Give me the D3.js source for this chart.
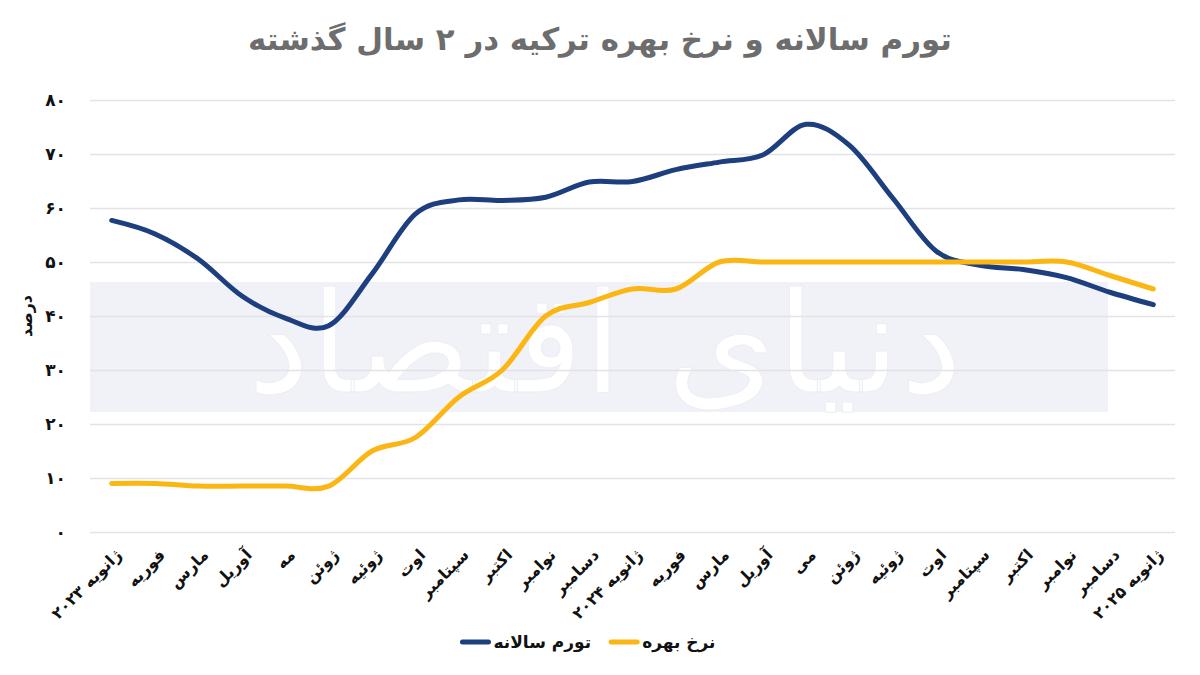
<!DOCTYPE html>
<html><head><meta charset="utf-8">
<script src="https://cdn.jsdelivr.net/npm/d3@7"></script>
<style>
html,body{margin:0;padding:0;background:#fff;}
svg{display:block;font-family:"DejaVu Sans",sans-serif;}
</style></head>
<body>
<svg id="c" width="1200" height="675"></svg>
<script>
const months = ["ژانویه ۲۰۲۳","فوریه","مارس","آوریل","مه","ژوئن","ژوئیه","اوت","سپتامبر","اکتبر","نوامبر","دسامبر","ژانویه ۲۰۲۴","فوریه","مارس","آوریل","می","ژوئن","ژوئیه","اوت","سپتامبر","اکتبر","نوامبر","دسامبر","ژانویه ۲۰۲۵"];
const inflation = [57.7,55.2,50.5,43.7,39.6,38.2,47.8,58.9,61.5,61.4,62.0,64.8,64.9,67.1,68.5,69.8,75.5,71.6,61.8,52.0,49.4,48.6,47.1,44.4,42.1];
const interestRate = [9,9,8.5,8.5,8.5,8.5,15,17.5,25,30,40,42.5,45,45,50,50,50,50,50,50,50,50,50,47.5,45];
const yTicks = [0,10,20,30,40,50,60,70,80];
const seriesNames = ["تورم سالانه","نرخ بهره"];
const seriesColors = ["#1e3f7f","#fbb614"];
const titleText = "تورم سالانه و نرخ بهره ترکیه در ۲ سال گذشته";
const yTitle = "درصد";

const fa = n => String(n).replace(/\d/g, d => "۰۱۲۳۴۵۶۷۸۹"[d]);
const svg = d3.select("#c");
const L = 90, R = 1175, T = 100, B = 532;

const x = d3.scaleBand().domain(d3.range(months.length)).range([L, R]).padding(0);
const cx = i => x(i) + x.bandwidth() / 2;
const y = d3.scaleLinear().domain([0, 80]).range([B, T]);

// watermark band
svg.append("rect").attr("x", L).attr("y", 282).attr("width", 1108 - L).attr("height", 412 - 282).attr("fill", "#f1f2f7");
svg.append("text").attr("x", 605).attr("y", 392).attr("text-anchor", "middle")
  .attr("font-size", 140).attr("fill", "#ffffff")
  .attr("stroke", "#eceef4").attr("stroke-width", 1)
  .text("دنیای اقتصاد");

// grid + y axis
const yAxis = d3.axisLeft(y).tickValues(yTicks).tickSize(-(R - L)).tickFormat(fa);
const gy = svg.append("g").attr("transform", `translate(${L},0)`).call(yAxis);
gy.select(".domain").remove();
gy.selectAll(".tick line").attr("stroke", "#e3e3e6").attr("stroke-width", 1.3);
gy.selectAll(".tick text").attr("x", -24).attr("font-size", 17).attr("font-weight", "bold")
  .attr("fill", "#111").attr("font-family", "DejaVu Sans");

// y title
svg.append("text").attr("transform", "translate(32,316) rotate(-90)").attr("text-anchor", "middle")
  .attr("font-size", 16).attr("font-weight", "bold").attr("fill", "#111").text(yTitle);

// x labels
svg.append("g").selectAll("text").data(months).join("text")
  .attr("transform", (d, i) => `translate(${cx(i) + 7},${552}) rotate(-45)`)
  .attr("text-anchor", "end").attr("dy", "0.35em")
  .attr("font-size", 16).attr("font-weight", "bold").attr("fill", "#111")
  .text(d => d);

// lines
const line = d3.line().x((d, i) => cx(i)).y(d => y(d)).curve(d3.curveCardinal.tension(0));
svg.append("path").datum(inflation).attr("d", line).attr("fill", "none")
  .attr("stroke", seriesColors[0]).attr("stroke-width", 5)
  .attr("stroke-linecap", "round").attr("stroke-linejoin", "round");
svg.append("path").datum(interestRate).attr("d", line).attr("fill", "none")
  .attr("stroke", seriesColors[1]).attr("stroke-width", 5)
  .attr("stroke-linecap", "round").attr("stroke-linejoin", "round");

// title
const t = svg.append("text").attr("x", 600).attr("y", 50).attr("text-anchor", "middle")
  .attr("font-size", 32).attr("font-weight", "bold").attr("fill", "#6d6d6d").text(titleText);
const w = t.node().getComputedTextLength();
t.attr("font-size", 32 * 704 / w);

// legend (measured layout, centered like reference)
const lg = svg.append("g");
let cur = 0;
seriesNames.forEach((name, k) => {
  lg.append("line").attr("x1", cur + 2).attr("x2", cur + 28).attr("y1", 642).attr("y2", 642)
    .attr("stroke", seriesColors[k]).attr("stroke-width", 5).attr("stroke-linecap", "round");
  const tx = lg.append("text").attr("x", cur + 33).attr("y", 648).attr("text-anchor", "start")
    .attr("font-size", 17).attr("font-weight", "bold").attr("fill", "#111").text(name);
  cur += 33 + tx.node().getComputedTextLength() + 18;
});
const total = cur - 18;
lg.attr("transform", `translate(${588 - total / 2},0)`);
</script>
</body></html>
